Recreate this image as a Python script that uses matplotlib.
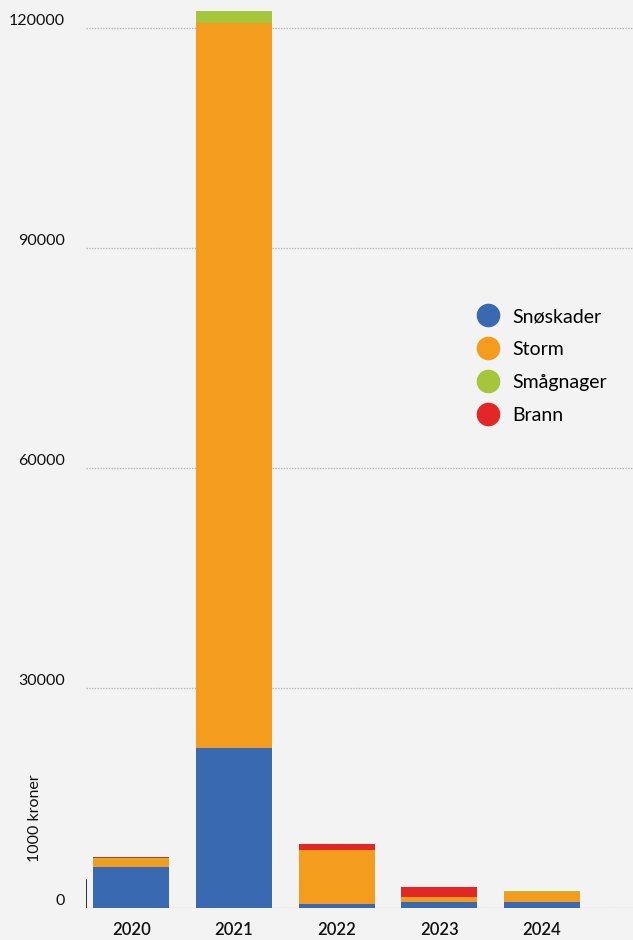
import matplotlib.pyplot as plt
from matplotlib.lines import Line2D
import numpy as np

# Skadebeløp per år, i 1000 kroner
years = ["2020", "2021", "2022", "2023", "2024"]
snoskader = [5540, 21800, 500, 860, 820]
storm = [1150, 98800, 7450, 680, 1360]
smagnager = [140, 1700, 0, 0, 90]
brann = [80, 60, 820, 1360, 0]

series = [
    ("Snøskader", snoskader, "#3869b1"),
    ("Storm", storm, "#f39c1e"),
    ("Smågnager", smagnager, "#a5c63b"),
    ("Brann", brann, "#e32726"),
]
yticks = [0, 30000, 60000, 90000, 120000]

bg = "#f3f3f3"
plt.rcParams["font.family"] = ["Lato", "DejaVu Sans"]

fig = plt.figure(figsize=(6.33, 9.40), dpi=100, facecolor=bg)
ax = fig.add_axes([86 / 633, 32 / 940, 547 / 633, 908 / 940], facecolor=bg)

x = np.arange(len(years))
bottom = np.zeros(len(years))
for name, vals, color in series:
    ax.bar(x, vals, width=0.74, bottom=bottom, color=color, zorder=3)
    bottom += np.array(vals)

ax.set_xlim(-0.44, 4.886)
ax.set_ylim(0, 123800)

ax.set_yticks(yticks)
ax.set_yticklabels([str(v) for v in yticks], fontsize=11.5, color="#111111", va="bottom")
ax.set_xticks(x)
ax.set_xticklabels(years, fontsize=12, color="#111111", fontweight="semibold")
ax.tick_params(axis="y", length=0, pad=15)
ax.tick_params(axis="x", length=0, pad=10)

ax.grid(axis="y", linestyle=(0, (1, 1)), color="#b4b4b4", linewidth=1, zorder=1)
for s in ax.spines.values():
    s.set_visible(False)

# short left axis stub at the base
ax.axvline(-0.44, ymin=0, ymax=28 / 908, color="#111111", linewidth=1.2, zorder=4)

fig.text(35 / 633, 1 - 818 / 940, "1000 kroner", rotation=90, ha="center", va="center",
         fontsize=11.5, color="#111111")

handles = [Line2D([], [], marker="o", linestyle="none", markersize=16, markerfacecolor=c,
                  markeredgecolor=c) for _, _, c in series]
ax.legend(handles, [n for n, _, _ in series], loc="center left",
          bbox_to_anchor=(469 / 633, 1 - 366 / 940), bbox_transform=fig.transFigure,
          frameon=False, fontsize=14, handletextpad=0.25, labelspacing=0.82,
          borderaxespad=0, borderpad=0)

fig.savefig("out.png", dpi=100, facecolor=bg)
